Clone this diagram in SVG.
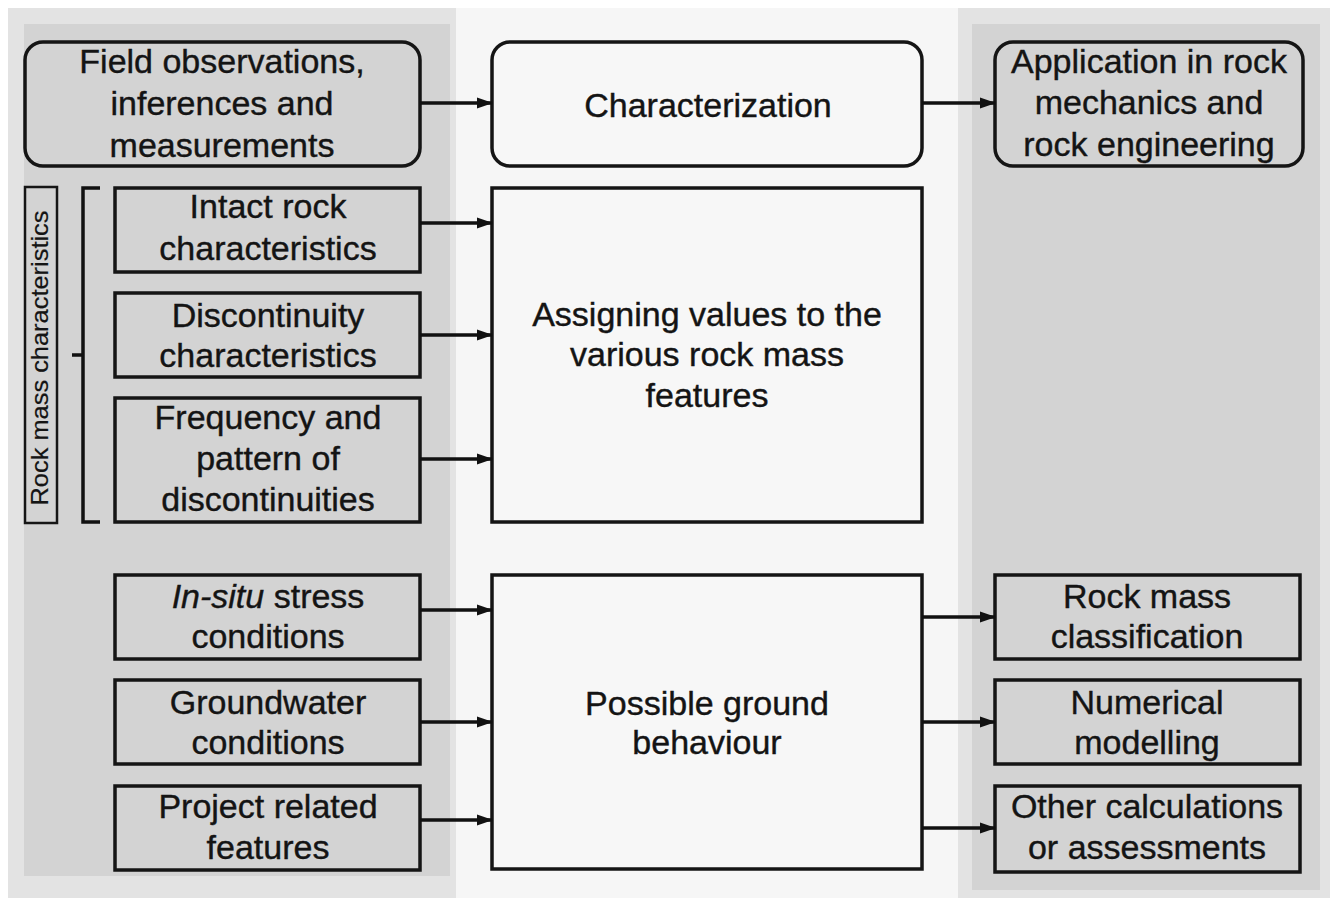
<svg xmlns="http://www.w3.org/2000/svg" width="1335" height="899" viewBox="0 0 1335 899">
<defs>
<marker id="ah" markerWidth="16" markerHeight="14" refX="15" refY="7" orient="auto" markerUnits="userSpaceOnUse">
<path d="M0,1.5 L16,7 L0,12.5 Z" fill="#111"/>
</marker>
<style>
.t{font-family:"Liberation Sans",Arial,sans-serif;font-size:34px;fill:#141414;stroke:#141414;stroke-width:0.4;text-anchor:middle}
.g{fill:#d3d3d3;stroke:#151515;stroke-width:3.5}
.w{fill:#f7f7f7;stroke:#151515;stroke-width:3.5}
.c{stroke:#111;stroke-width:3.5;fill:none}
</style>
</defs>
<rect x="0" y="0" width="1335" height="899" fill="#ffffff"/>
<!-- panels -->
<rect x="8" y="8" width="448" height="890" fill="#e3e3e3"/>
<rect x="24" y="24" width="426" height="852" fill="#d3d3d3"/>
<rect x="456" y="8" width="502" height="890" fill="#f6f6f6"/>
<rect x="958" y="8" width="372" height="890" fill="#e3e3e3"/>
<rect x="972" y="24" width="348" height="866" fill="#d3d3d3"/>

<g id="field">
<rect class="g" x="25" y="42" width="395" height="124" rx="18"/>
<text class="t" x="222" y="73">Field observations,</text>
<text class="t" x="222" y="115">inferences and</text>
<text class="t" x="222" y="157">measurements</text>
</g>
<g id="characterization">
<rect class="w" x="492" y="42" width="430" height="124" rx="18"/>
<text class="t" x="708" y="117">Characterization</text>
</g>
<g id="application">
<rect class="g" x="995" y="42" width="308" height="124" rx="18"/>
<text class="t" x="1149" y="73">Application in rock</text>
<text class="t" x="1149" y="114">mechanics and</text>
<text class="t" x="1149" y="156">rock engineering</text>
</g>
<g id="rockmass-label">
<rect x="25" y="187" width="32" height="336" fill="#d3d3d3" stroke="#151515" stroke-width="2.5"/>
<text class="t" transform="translate(48,358) rotate(-90)" x="0" y="0" style="font-size:24px;stroke-width:0.2" textLength="295" lengthAdjust="spacingAndGlyphs">Rock mass characteristics</text>
<path class="c" d="M100,188 H83 V522 H100 M83,355 H72"/>
</g>
<g id="intact">
<rect class="g" x="115" y="188" width="305" height="84"/>
<text class="t" x="268" y="218">Intact rock</text>
<text class="t" x="268" y="260">characteristics</text>
</g>
<g id="discontinuity">
<rect class="g" x="115" y="293" width="305" height="84"/>
<text class="t" x="268" y="327">Discontinuity</text>
<text class="t" x="268" y="367">characteristics</text>
</g>
<g id="frequency">
<rect class="g" x="115" y="398" width="305" height="124"/>
<text class="t" x="268" y="429">Frequency and</text>
<text class="t" x="268" y="470">pattern of</text>
<text class="t" x="268" y="511">discontinuities</text>
</g>
<g id="assigning">
<rect class="w" x="492" y="188" width="430" height="334"/>
<text class="t" x="707" y="326">Assigning values to the</text>
<text class="t" x="707" y="366">various rock mass</text>
<text class="t" x="707" y="407">features</text>
</g>
<g id="insitu">
<rect class="g" x="115" y="575" width="305" height="84"/>
<text class="t" x="268" y="608"><tspan font-style="italic">In-situ</tspan> stress</text>
<text class="t" x="268" y="648">conditions</text>
</g>
<g id="groundwater">
<rect class="g" x="115" y="680" width="305" height="84"/>
<text class="t" x="268" y="714">Groundwater</text>
<text class="t" x="268" y="754">conditions</text>
</g>
<g id="project">
<rect class="g" x="115" y="786" width="305" height="84"/>
<text class="t" x="268" y="818">Project related</text>
<text class="t" x="268" y="859">features</text>
</g>
<g id="possible">
<rect class="w" x="492" y="575" width="430" height="294"/>
<text class="t" x="707" y="715">Possible ground</text>
<text class="t" x="707" y="754">behaviour</text>
</g>
<g id="classification">
<rect class="g" x="995" y="575" width="305" height="84"/>
<text class="t" x="1147" y="608">Rock mass</text>
<text class="t" x="1147" y="648">classification</text>
</g>
<g id="numerical">
<rect class="g" x="995" y="680" width="305" height="84"/>
<text class="t" x="1147" y="714">Numerical</text>
<text class="t" x="1147" y="754">modelling</text>
</g>
<g id="other">
<rect class="g" x="995" y="786" width="305" height="86"/>
<text class="t" x="1147" y="818">Other calculations</text>
<text class="t" x="1147" y="859">or assessments</text>
</g>

<g id="connectors">
<line class="c" x1="420" y1="103" x2="492" y2="103" marker-end="url(#ah)"/>
<line class="c" x1="922" y1="103" x2="995" y2="103" marker-end="url(#ah)"/>
<line class="c" x1="420" y1="223" x2="492" y2="223" marker-end="url(#ah)"/>
<line class="c" x1="420" y1="335" x2="492" y2="335" marker-end="url(#ah)"/>
<line class="c" x1="420" y1="459" x2="492" y2="459" marker-end="url(#ah)"/>
<line class="c" x1="420" y1="610" x2="492" y2="610" marker-end="url(#ah)"/>
<line class="c" x1="420" y1="722" x2="492" y2="722" marker-end="url(#ah)"/>
<line class="c" x1="420" y1="820" x2="492" y2="820" marker-end="url(#ah)"/>
<line class="c" x1="922" y1="617" x2="995" y2="617" marker-end="url(#ah)"/>
<line class="c" x1="922" y1="722" x2="995" y2="722" marker-end="url(#ah)"/>
<line class="c" x1="922" y1="828" x2="995" y2="828" marker-end="url(#ah)"/>
</g>
</svg>
